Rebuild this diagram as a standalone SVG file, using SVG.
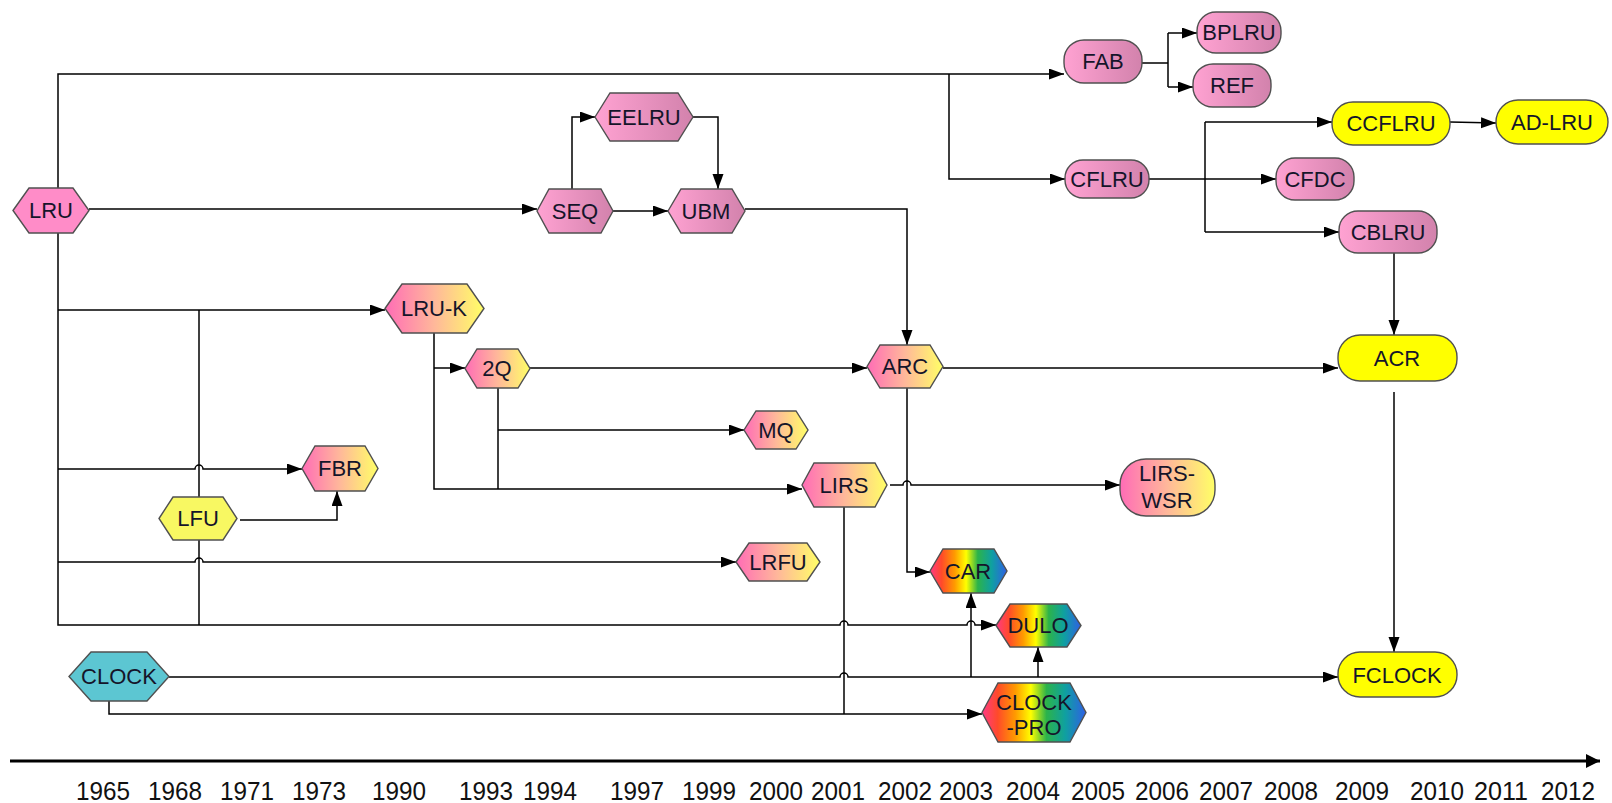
<svg xmlns="http://www.w3.org/2000/svg" width="1612" height="803" viewBox="0 0 1612 803">
  <style>
    .lbl { font-family: "Liberation Sans", Arial, sans-serif; font-size: 22px; fill: #15152a; text-anchor: middle; }
    .year { font-family: "Liberation Sans", Arial, sans-serif; font-size: 26px; fill: #111; text-anchor: middle; }
    .node { stroke: #505050; stroke-width: 1.4; }
    .pink { fill: url(#gPink); }
    .solidpink { fill: #ff8cc8; }
    .py { fill: url(#gPinkYellow); }
    .yellow { fill: #ffff00; }
    .lyellow { fill: #f8f862; }
    .teal { fill: #5cc6d2; }
    .rainbow { fill: url(#gRainbow); }
    .conn path { fill: none; stroke: #000; stroke-width: 1.5; }
    .conn path.arr { marker-end: url(#arrow); }
  </style>
  <defs>
    <linearGradient id="gPink" x1="0" y1="0" x2="1" y2="0">
      <stop offset="0" stop-color="#ffa2d2"/>
      <stop offset="1" stop-color="#d282ac"/>
    </linearGradient>
    <linearGradient id="gPinkYellow" x1="0" y1="0" x2="1" y2="0">
      <stop offset="0" stop-color="#ff6cb6"/>
      <stop offset="0.5" stop-color="#ffb89a"/>
      <stop offset="1" stop-color="#ffff66"/>
    </linearGradient>
    <linearGradient id="gRainbow" x1="0" y1="0" x2="1" y2="0">
      <stop offset="0" stop-color="#ff3a86"/>
      <stop offset="0.15" stop-color="#ff4a2a"/>
      <stop offset="0.32" stop-color="#ff9a00"/>
      <stop offset="0.47" stop-color="#ffff00"/>
      <stop offset="0.62" stop-color="#2cb34a"/>
      <stop offset="0.8" stop-color="#0fa0a0"/>
      <stop offset="1" stop-color="#2f5fe6"/>
    </linearGradient>
    <marker id="arrow" markerUnits="userSpaceOnUse" markerWidth="16" markerHeight="12" refX="15" refY="5.5" orient="auto">
      <path d="M0,0 L15,5.5 L0,11 z" fill="#000"/>
    </marker>
    <marker id="axisArrow" markerUnits="userSpaceOnUse" markerWidth="16" markerHeight="16" refX="14" refY="7" orient="auto">
      <path d="M0,0 L14,7 L0,14 z" fill="#000"/>
    </marker>
  </defs>

  <!-- connectors -->
  <g id="connectors" class="conn">
    <!-- LRU upward trunk to FAB, branch to CFLRU -->
    <path class="arr" d="M58,188 V74 H1064"/>
    <path class="arr" d="M949,74 V179 H1065"/>
    <!-- LRU -> SEQ -> UBM, SEQ -> EELRU -> UBM -->
    <path class="arr" d="M89,209 H537"/>
    <path class="arr" d="M613,211 H668"/>
    <path class="arr" d="M572,189 V117 H595"/>
    <path class="arr" d="M693,117 H718 V189"/>
    <!-- UBM -> ARC -->
    <path class="arr" d="M745,209 H907 V345"/>
    <!-- LRU downward trunk to DULO with its branches -->
    <path class="arr" d="M58,233 V625 H840 a4,4 0 0 1 8,0 H967 a4,4 0 0 1 8,0 H996"/>
    <path class="arr" d="M58,310 H385"/>
    <path class="arr" d="M58,469 H195 a4,4 0 0 1 8,0 H302"/>
    <path class="arr" d="M58,562 H195 a4,4 0 0 1 8,0 H736"/>
    <!-- LFU joins the LRU-K and DULO lines; LFU -> FBR -->
    <path d="M199,310 V497"/>
    <path d="M199,540 V625"/>
    <path class="arr" d="M240,520 H337 V491"/>
    <!-- LRU-K -> 2Q, LRU-K -> LIRS -->
    <path class="arr" d="M434,333 V489 H802"/>
    <path class="arr" d="M434,368 H465"/>
    <!-- 2Q -> ARC, 2Q -> MQ, 2Q -> LIRS -->
    <path class="arr" d="M530,368 H867"/>
    <path d="M498,388 V489"/>
    <path class="arr" d="M498,430 H744"/>
    <!-- ARC -> ACR, ARC -> CAR -->
    <path class="arr" d="M943,368 H1338"/>
    <path class="arr" d="M907,388 V572 H930"/>
    <!-- LIRS -> LIRS-WSR, LIRS -> CLOCK-PRO -->
    <path class="arr" d="M890,485 H903 a4,4 0 0 1 8,0 H1120"/>
    <path d="M844,507 V714"/>
    <!-- CLOCK -> FCLOCK, CAR, DULO; CLOCK -> CLOCK-PRO -->
    <path class="arr" d="M169,677 H840 a4,4 0 0 1 8,0 H1338"/>
    <path class="arr" d="M971,677 V593"/>
    <path class="arr" d="M1038,677 V647"/>
    <path class="arr" d="M109,701 V714 H982"/>
    <!-- FAB -> BPLRU, REF -->
    <path d="M1142,63 H1168 M1168,33 V87"/>
    <path class="arr" d="M1168,33 H1197"/>
    <path class="arr" d="M1168,87 H1193"/>
    <!-- CFLRU -> CFDC, CCFLRU, CBLRU -->
    <path class="arr" d="M1149,179 H1276"/>
    <path d="M1205,122 V232"/>
    <path class="arr" d="M1205,122 H1332"/>
    <path class="arr" d="M1205,232 H1339"/>
    <!-- CCFLRU -> AD-LRU, CBLRU -> ACR -> FCLOCK -->
    <path class="arr" d="M1450,122 L1496,123"/>
    <path class="arr" d="M1394,253 V335"/>
    <path class="arr" d="M1394,392 V652"/>
  </g>

  <!-- hexagon nodes -->
  <g id="LRU"><polygon class="node solidpink" points="13,210.5 29,188 73,188 89,210.5 73,233 29,233"/><text class="lbl" x="51" y="218">LRU</text></g>
  <g id="SEQ"><polygon class="node pink" points="537,211 549,189 601,189 613,211 601,233 549,233"/><text class="lbl" x="575" y="219">SEQ</text></g>
  <g id="UBM"><polygon class="node pink" points="668,211 681,189 732,189 745,211 732,233 681,233"/><text class="lbl" x="706" y="219">UBM</text></g>
  <g id="EELRU"><polygon class="node pink" points="595,117 610,93 678,93 693,117 678,141 610,141"/><text class="lbl" x="644" y="125">EELRU</text></g>
  <g id="LRU-K"><polygon class="node py" points="385,308.5 402,284 467,284 484,308.5 467,333 402,333"/><text class="lbl" x="434" y="316">LRU-K</text></g>
  <g id="2Q"><polygon class="node py" points="465,368.5 477,349 518,349 530,368.5 518,388 477,388"/><text class="lbl" x="497" y="376">2Q</text></g>
  <g id="ARC"><polygon class="node py" points="867,366.5 880,345 930,345 943,366.5 930,388 880,388"/><text class="lbl" x="905" y="374">ARC</text></g>
  <g id="MQ"><polygon class="node py" points="744,430 756,411 796,411 808,430 796,449 756,449"/><text class="lbl" x="776" y="438">MQ</text></g>
  <g id="FBR"><polygon class="node py" points="302,468.5 315,446 365,446 378,468.5 365,491 315,491"/><text class="lbl" x="340" y="476">FBR</text></g>
  <g id="LFU"><polygon class="node lyellow" points="159,518.5 173,497 223,497 237,518.5 223,540 173,540"/><text class="lbl" x="198" y="526">LFU</text></g>
  <g id="LIRS"><polygon class="node py" points="802,485 814,463 875,463 887,485 875,507 814,507"/><text class="lbl" x="844" y="493">LIRS</text></g>
  <g id="LRFU"><polygon class="node py" points="736,562 749,543 807,543 820,562 807,581 749,581"/><text class="lbl" x="778" y="570">LRFU</text></g>
  <g id="CAR"><polygon class="node rainbow" points="930,571 943,549 994,549 1007,571 994,593 943,593"/><text class="lbl" x="968" y="579">CAR</text></g>
  <g id="DULO"><polygon class="node rainbow" points="996,625.5 1010,604 1067,604 1081,625.5 1067,647 1010,647"/><text class="lbl" x="1038" y="633">DULO</text></g>
  <g id="CLOCK-PRO"><polygon class="node rainbow" points="982,712.5 998,683 1070,683 1086,712.5 1070,742 998,742"/><text class="lbl" x="1034" y="710">CLOCK</text><text class="lbl" x="1034" y="735">-PRO</text></g>
  <g id="CLOCK"><polygon class="node teal" points="69,676.5 91,652 147,652 169,676.5 147,701 91,701"/><text class="lbl" x="119" y="684">CLOCK</text></g>

  <!-- rounded nodes -->
  <g id="FAB"><rect class="node pink" x="1064" y="40" width="78" height="43" rx="20"/><text class="lbl" x="1103" y="69">FAB</text></g>
  <g id="BPLRU"><rect class="node pink" x="1197" y="12" width="84" height="41" rx="19"/><text class="lbl" x="1239" y="40">BPLRU</text></g>
  <g id="REF"><rect class="node pink" x="1193" y="64" width="78" height="43" rx="20"/><text class="lbl" x="1232" y="93">REF</text></g>
  <g id="CFLRU"><rect class="node pink" x="1065" y="160" width="84" height="38" rx="18"/><text class="lbl" x="1107" y="187">CFLRU</text></g>
  <g id="CFDC"><rect class="node pink" x="1276" y="158" width="78" height="42" rx="19"/><text class="lbl" x="1315" y="187">CFDC</text></g>
  <g id="CCFLRU"><rect class="node yellow" x="1332" y="102" width="118" height="43" rx="21"/><text class="lbl" x="1391" y="131">CCFLRU</text></g>
  <g id="AD-LRU"><rect class="node yellow" x="1496" y="100" width="112" height="44" rx="22"/><text class="lbl" x="1552" y="130">AD-LRU</text></g>
  <g id="CBLRU"><rect class="node pink" x="1339" y="211" width="98" height="42" rx="19"/><text class="lbl" x="1388" y="240">CBLRU</text></g>
  <g id="ACR"><rect class="node yellow" x="1338" y="335" width="119" height="46" rx="22"/><text class="lbl" x="1397" y="366">ACR</text></g>
  <g id="FCLOCK"><rect class="node yellow" x="1338" y="652" width="119" height="45" rx="22"/><text class="lbl" x="1397" y="683">FCLOCK</text></g>
  <g id="LIRS-WSR"><rect class="node py" x="1120" y="459" width="95" height="57" rx="26"/><text class="lbl" x="1167" y="481">LIRS-</text><text class="lbl" x="1167" y="508">WSR</text></g>

  <!-- time axis with condensed year labels -->
  <g id="axis">
    <path d="M10,761 H1600" stroke="#000" stroke-width="3" fill="none" marker-end="url(#axisArrow)"/>
    <g lengthAdjust="spacingAndGlyphs">
      <text class="year" x="103" y="800" textLength="54" lengthAdjust="spacingAndGlyphs">1965</text>
      <text class="year" x="175" y="800" textLength="54" lengthAdjust="spacingAndGlyphs">1968</text>
      <text class="year" x="247" y="800" textLength="54" lengthAdjust="spacingAndGlyphs">1971</text>
      <text class="year" x="319" y="800" textLength="54" lengthAdjust="spacingAndGlyphs">1973</text>
      <text class="year" x="399" y="800" textLength="54" lengthAdjust="spacingAndGlyphs">1990</text>
      <text class="year" x="486" y="800" textLength="54" lengthAdjust="spacingAndGlyphs">1993</text>
      <text class="year" x="550" y="800" textLength="54" lengthAdjust="spacingAndGlyphs">1994</text>
      <text class="year" x="637" y="800" textLength="54" lengthAdjust="spacingAndGlyphs">1997</text>
      <text class="year" x="709" y="800" textLength="54" lengthAdjust="spacingAndGlyphs">1999</text>
      <text class="year" x="776" y="800" textLength="54" lengthAdjust="spacingAndGlyphs">2000</text>
      <text class="year" x="838" y="800" textLength="54" lengthAdjust="spacingAndGlyphs">2001</text>
      <text class="year" x="905" y="800" textLength="54" lengthAdjust="spacingAndGlyphs">2002</text>
      <text class="year" x="966" y="800" textLength="54" lengthAdjust="spacingAndGlyphs">2003</text>
      <text class="year" x="1033" y="800" textLength="54" lengthAdjust="spacingAndGlyphs">2004</text>
      <text class="year" x="1098" y="800" textLength="54" lengthAdjust="spacingAndGlyphs">2005</text>
      <text class="year" x="1162" y="800" textLength="54" lengthAdjust="spacingAndGlyphs">2006</text>
      <text class="year" x="1226" y="800" textLength="54" lengthAdjust="spacingAndGlyphs">2007</text>
      <text class="year" x="1291" y="800" textLength="54" lengthAdjust="spacingAndGlyphs">2008</text>
      <text class="year" x="1362" y="800" textLength="54" lengthAdjust="spacingAndGlyphs">2009</text>
      <text class="year" x="1437" y="800" textLength="54" lengthAdjust="spacingAndGlyphs">2010</text>
      <text class="year" x="1501" y="800" textLength="54" lengthAdjust="spacingAndGlyphs">2011</text>
      <text class="year" x="1568" y="800" textLength="54" lengthAdjust="spacingAndGlyphs">2012</text>
    </g>
  </g>
</svg>
